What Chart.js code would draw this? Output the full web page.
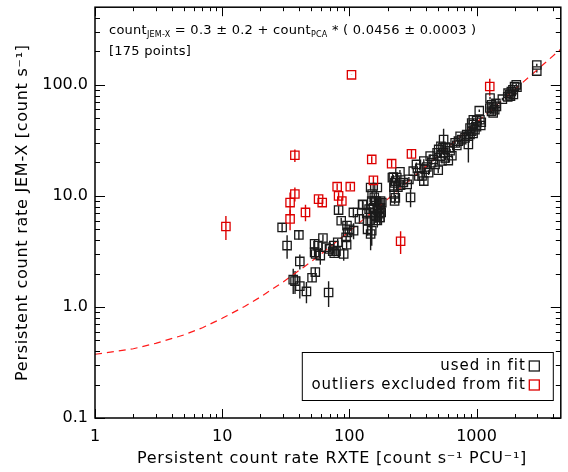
<!DOCTYPE html>
<html>
<head>
<meta charset="utf-8">
<script src="https://cdn.jsdelivr.net/npm/chart.js@4.4.1/dist/chart.umd.min.js"></script>
<style>
  html, body { margin: 0; padding: 0; background: #fff; }
  #wrap { width: 568px; height: 472px; position: relative; }
</style>
</head>
<body>
<div id="wrap"><canvas id="myChart"></canvas></div>
<script>
// --- DATA ---
// points used in the fit (RXTE rate, JEM-X rate, JEM-X error)
const usedX = [29.6, 32.4, 40.1, 40.8, 36.2, 37.4, 40.8, 46.0, 50.9, 54.0,
  68.7, 53.3, 53.3, 54.3, 59.1, 62.0, 56.7, 65.6, 69.8, 74.0,
  76.0, 78.5, 75.5, 81.0, 90.3, 95.2, 94.3, 97.0, 108, 82.3,
  86.3, 95.8, 107.6, 127, 120, 147, 151, 158, 166, 143,
  147, 155, 162, 146, 150, 139, 171, 174, 178, 222,
  228, 225, 227, 250, 218, 231, 241, 253, 266, 224,
  294, 285, 337, 318, 358, 373, 385, 352, 385, 407,
  420, 395, 432, 444, 458, 490, 472, 504, 519, 535,
  551, 568, 545, 525, 568, 551, 500, 679, 721, 765,
  743, 812, 863, 889, 837, 916, 863, 889, 944, 972,
  916, 1002, 1064, 944, 1051, 1277, 1312, 1352, 1273, 1391,
  1312, 1435, 1352, 1597, 1770, 1878, 1992, 1822, 1934, 2054,
  2978, 2978, 100, 139, 147, 150, 157, 161, 166, 171,
  176, 171, 159, 166, 174, 176, 236, 230, 303, 180,
  128, 137, 600, 620, 640, 610, 940, 1000, 1090, 1080,
  1850, 1950, 2080, 1760, 1420, 700];
const usedY = [5.2, 3.57, 4.45, 2.57, 1.76, 1.71, 1.54, 1.38, 1.83, 2.06,
  1.35, 3.7, 3.1, 3.0, 2.9, 4.18, 3.57, 3.45, 3.33, 3.17,
  3.05, 3.17, 3.57, 3.82, 3.0, 3.64, 4.23, 4.69, 4.86, 7.45,
  5.97, 5.4, 7.1, 8.4, 6.2, 11.9, 10.4, 9.0, 11.9, 7.6,
  7.1, 7.8, 6.6, 6.0, 4.86, 5.0, 7.8, 6.4, 7.1, 14.8,
  13.1, 10.4, 9.0, 16.5, 14.6, 13.6, 12.0, 12.5, 13.2, 12.0,
  14.1, 12.7, 19.2, 16.7, 17.7, 15.1, 13.6, 15.1, 20.6, 18.2,
  16.2, 17.4, 22.8, 19.9, 21.3, 24.4, 19.2, 26.2, 22.8, 20.6,
  24.4, 22.0, 27.1, 28.0, 27.5, 32.2, 17.0, 30.0, 31.1, 32.1,
  34.4, 33.3, 34.4, 35.7, 35.7, 38.2, 29.0, 40.8, 43.9, 39.5,
  45.3, 47.5, 48.5, 48.5, 58.5, 75.9, 66.2, 61.8, 61.8, 59.7,
  57.7, 64.0, 55.7, 74.3, 84.1, 87.1, 96.6, 81.3, 90.2, 100,
  151, 133, 5.0, 6.0, 4.54, 9.0, 9.7, 9.0, 7.35, 6.9,
  7.8, 8.7, 6.6, 6.0, 6.4, 9.0, 14.6, 9.6, 9.7, 8.7,
  8.3, 6.9, 20.8, 25.5, 23.0, 27.0, 36.5, 42.0, 46.0, 43.0,
  79, 82, 95, 78, 68, 28.5];
const usedErr = [0.5, 0.85, 0.4, 0.4, 0.45, 0.4, 0.35, 0.3, 0.15, 0.2,
  0.35, 0.3, 0.3, 0.3, 0.5, 0.3, 0.3, 0.2, 0.2, 0.25,
  0.2, 0.2, 0.25, 0.3, 0.4, 0.3, 0.3, 0.4, 0.8, 0.6,
  0.4, 0.5, 0.7, 0.6, 0.6, 0.8, 0.8, 0.8, 0.8, 0.8,
  0.8, 0.8, 0.9, 0.8, 1.3, 0.6, 0.8, 0.9, 0.8, 0.6,
  0.6, 0.7, 0.6, 0.6, 0.6, 0.6, 0.8, 0.6, 0.7, 0.6,
  0.7, 0.7, 0.8, 0.8, 0.8, 1.2, 1.3, 0.8, 0.8, 0.8,
  0.8, 0.8, 0.8, 0.8, 0.8, 0.9, 0.9, 1.0, 1.0, 1.0,
  1.0, 1.0, 1.0, 1.0, 1.0, 8, 1.0, 1.0, 1.0, 1.0,
  1.0, 1.0, 1.2, 1.2, 1.2, 1.2, 9, 1.2, 1.3, 1.3,
  1.3, 1.3, 1.5, 1.3, 1.5, 2, 2, 2, 2, 2,
  2, 2, 2, 2, 2, 2, 2.5, 2, 2.5, 2.5,
  4, 4, 0.5, 0.6, 1.3, 0.8, 0.8, 0.8, 0.8, 0.8,
  0.8, 0.8, 0.8, 0.8, 0.8, 0.8, 0.6, 0.6, 1.8, 0.8,
  0.6, 0.6, 1, 1, 1, 1, 1.2, 1.3, 1.5, 1.5,
  2, 2, 2.5, 2, 2, 1];

// outliers excluded from the fit
const outX = [10.7, 37.3, 37.3, 34.2, 34.2, 45.2, 57.3, 61.2, 80.2, 82.3, 87.3, 101.7, 104, 150, 154.6, 215, 308, 253, 1271];
const outY = [5.3, 23.2, 10.4, 8.7, 6.2, 7.1, 9.35, 8.7, 12.1, 10.0, 9.0, 12.1, 123, 21.3, 13.8, 19.5, 23.9, 3.9, 96.6];
const outErr = [1.3, 3.0, 1.5, 2.0, 1.3, 1.2, 0.8, 0.6, 0.8, 0.8, 0.7, 0.8, 0.5, 1.5, 1.2, 1.5, 2.0, 0.9, 17];

// fitted relation
const fitX = [1, 1.5, 2, 3, 5, 7, 10, 15, 20, 30, 50, 70, 100, 200, 500, 1000, 2000, 5000];
const fitY = [0.375, 0.40, 0.42, 0.47, 0.56, 0.65, 0.79, 1.01, 1.23, 1.67, 2.55, 3.45, 4.8, 9.35, 23, 45.8, 91, 228];

const xMajor = [1, 10, 100, 1000];
const xTickLabels = ['1', '10', '100', '1000'];
const yMajor = [0.1, 1, 10, 100];
const yTickLabels = ['0.1', '1.0', '10.0', '100.0'];

const X_TITLE = 'Persistent count rate RXTE [count s\u207b\u00b9 PCU\u207b\u00b9]';
const Y_TITLE = 'Persistent count rate JEM-X [count s\u207b\u00b9]';

const BLACK = '#1a1a1a';
const RED = '#dd0000';
const FONT = 'DejaVu Sans';

// --- PLUGINS ---
const errorBars = {
  id: 'errorBars',
  beforeDatasetsDraw(chart) {
    const { ctx, chartArea: a, scales: { x, y } } = chart;
    ctx.save();
    ctx.beginPath();
    ctx.rect(a.left, a.top, a.width, a.height);
    ctx.clip();
    chart.data.datasets.forEach(ds => {
      if (!ds.errors) return;
      ctx.strokeStyle = ds.borderColor;
      ctx.lineWidth = 1.4;
      ds.data.forEach((p, i) => {
        const e = ds.errors[i];
        const px = x.getPixelForValue(p.x);
        ctx.beginPath();
        ctx.moveTo(px, y.getPixelForValue(p.y + e));
        ctx.lineTo(px, y.getPixelForValue(Math.max(p.y - e, 0.01)));
        ctx.stroke();
      });
    });
    ctx.restore();
  }
};

function decadeTicks(majors, max) {
  const out = [];
  majors.forEach(d => {
    for (let k = 1; k <= 9; k++) {
      if (d * k <= max * 1.0001) out.push({ v: d * k, major: k === 1 });
    }
  });
  return out;
}

function spaced(ctx, px) {
  if ('letterSpacing' in ctx) ctx.letterSpacing = px + 'px';
}

const frame = {
  id: 'frame',
  afterDatasetsDraw(chart) {
    const { ctx, chartArea: a, scales: { x, y } } = chart;
    ctx.save();
    ctx.strokeStyle = '#000';
    ctx.lineWidth = 1;
    ctx.beginPath();
    decadeTicks(xMajor, x.max).forEach(t => {
      const px = Math.round(x.getPixelForValue(t.v)) + 0.5;
      const len = t.major ? 9 : 4;
      ctx.moveTo(px, a.bottom); ctx.lineTo(px, a.bottom - len);
      ctx.moveTo(px, a.top); ctx.lineTo(px, a.top + len);
    });
    decadeTicks(yMajor, y.max).forEach(t => {
      const py = Math.round(y.getPixelForValue(t.v)) + 0.5;
      const len = t.major ? 10 : 5;
      ctx.moveTo(a.left, py); ctx.lineTo(a.left + len, py);
      ctx.moveTo(a.right, py); ctx.lineTo(a.right - len, py);
    });
    ctx.stroke();
    ctx.lineWidth = 1.5;
    ctx.strokeRect(a.left, a.top, a.width, a.height);
    ctx.restore();
  },
  afterDraw(chart) {
    const { ctx, chartArea: a } = chart;
    ctx.save();
    ctx.fillStyle = '#000';
    ctx.textBaseline = 'middle';

    // axis titles
    ctx.font = '16px ' + FONT;
    spaced(ctx, 0.75);
    ctx.textAlign = 'center';
    ctx.fillText(X_TITLE, 332, 459);
    ctx.save();
    ctx.translate(23, (a.top + a.bottom) / 2);
    ctx.rotate(-Math.PI / 2);
    ctx.fillText(Y_TITLE, 0, 0);
    ctx.restore();

    // fit relation
    ctx.textAlign = 'left';
    spaced(ctx, 0.25);
    let tx = a.left + 14;
    const parts = [
      ['count', 0], ['JEM-X', 1], [' = 0.3 \u00b1 0.2 + count', 0], ['PCA', 1],
      [' * ( 0.0456 \u00b1 0.0003 )', 0]
    ];
    parts.forEach(([t, sub]) => {
      ctx.font = (sub ? '8px ' : '13px ') + FONT;
      ctx.fillText(t, tx, 31 + (sub ? 4 : 0));
      tx += ctx.measureText(t).width;
    });
    ctx.font = '13px ' + FONT;
    ctx.fillText('[175 points]', a.left + 14, 52);

    // legend box
    const bx = a.right - 259, by = 352, bw = 251, bh = 48;
    ctx.lineWidth = 1;
    ctx.strokeStyle = '#000';
    ctx.strokeRect(bx + 0.5, by + 0.5, bw, bh);
    ctx.font = '15px ' + FONT;
    spaced(ctx, 1.0);
    ctx.textAlign = 'right';
    const rows = [['used in fit', BLACK, 366], ['outliers excluded from fit', RED, 385]];
    rows.forEach(([t, c, ry]) => {
      ctx.fillStyle = '#000';
      ctx.fillText(t, a.right - 35, ry);
      ctx.strokeStyle = c;
      ctx.lineWidth = 1.3;
      ctx.strokeRect(a.right - 31.5, ry - 5, 10, 10);
    });
    ctx.restore();
  }
};

function noPad(s) {
  s.paddingTop = 0; s.paddingBottom = 0; s.paddingLeft = 0; s.paddingRight = 0;
}

// --- CHART ---
Chart.defaults.font.family = FONT;
Chart.defaults.color = '#000';

const ctx = document.getElementById('myChart').getContext('2d');
new Chart(ctx, {
  type: 'scatter',
  data: {
    datasets: [
      {
        label: 'fit',
        data: fitX.map((v, i) => ({ x: v, y: fitY[i] })),
        showLine: true,
        borderColor: '#ff1a1a',
        borderWidth: 1.2,
        borderDash: [7, 5],
        pointRadius: 0,
        fill: false,
        order: 3
      },
      {
        label: 'used in fit',
        data: usedX.map((v, i) => ({ x: v, y: usedY[i] })),
        errors: usedErr,
        pointStyle: 'rect',
        pointRadius: 5.9,
        borderWidth: 1.3,
        borderColor: BLACK,
        backgroundColor: 'rgba(0,0,0,0)',
        order: 2
      },
      {
        label: 'outliers excluded from fit',
        data: outX.map((v, i) => ({ x: v, y: outY[i] })),
        errors: outErr,
        pointStyle: 'rect',
        pointRadius: 5.9,
        borderWidth: 1.3,
        borderColor: RED,
        backgroundColor: 'rgba(0,0,0,0)',
        order: 1
      }
    ]
  },
  options: {
    responsive: true,
    maintainAspectRatio: false,
    animation: false,
    devicePixelRatio: 1,
    layout: { padding: { top: 5, right: -1, left: 0, bottom: 0 } },
    plugins: { legend: { display: false }, tooltip: { enabled: false } },
    scales: {
      x: {
        type: 'logarithmic',
        min: 1,
        max: 4600,
        afterBuildTicks: s => { s.ticks = xMajor.map(v => ({ value: v })); },
        afterFit: s => { s.height = 54; noPad(s); },
        grid: { display: false, drawTicks: false },
        border: { display: false },
        ticks: {
          autoSkip: false,
          maxRotation: 0,
          padding: 9,
          font: { size: 16 },
          callback: v => xTickLabels[xMajor.indexOf(v)]
        }
      },
      y: {
        type: 'logarithmic',
        min: 0.1,
        max: 500,
        afterBuildTicks: s => { s.ticks = yMajor.map(v => ({ value: v })); },
        afterFit: s => { s.width = 95; noPad(s); },
        grid: { display: false, drawTicks: false },
        border: { display: false },
        ticks: {
          autoSkip: false,
          padding: 7,
          font: { size: 16 },
          callback: v => yTickLabels[yMajor.indexOf(v)]
        }
      }
    }
  },
  plugins: [errorBars, frame]
});
</script>
</body>
</html>
